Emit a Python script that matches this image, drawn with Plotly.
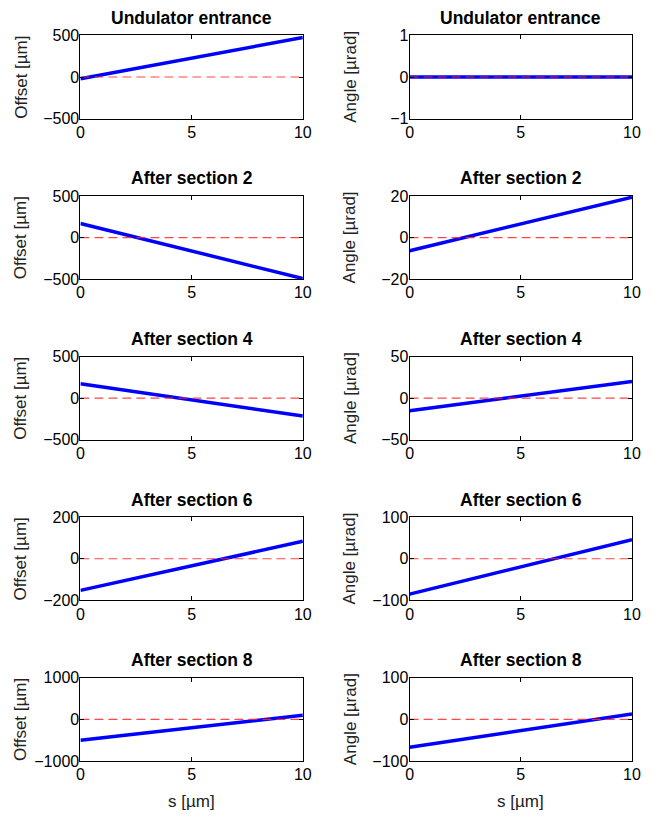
import plotly.graph_objects as go

# ---- data ----
s = [0, 10]
titles = ["Undulator entrance", "After section 2", "After section 4", "After section 6", "After section 8"]
offset_start = [-20, 170, 173, -152, -504]
offset_end = [475, -492, -215, 84, 100]
angle_start = [0, -6.3, -15, -85, -67]
angle_end = [0, 19.4, 20, 46, 13]
offset_range = [500, 500, 500, 200, 1000]
angle_range = [1, 20, 50, 100, 100]
offset_label = "Offset [µm]"
angle_label = "Angle [µrad]"
x_label = "s [µm]"

# page is 657x829; the html body keeps its default 8px margin, so the figure is 16px smaller
PAGE_W, PAGE_H, M = 657, 829, 8
W, H = PAGE_W - 2 * M, PAGE_H - 2 * M
FONT = "Liberation Sans, Arial, Helvetica, sans-serif"


def px(xp):
    return (xp - M) / W


def py(yp):
    return 1 - (yp - M) / H


col_px = [(86, 313), (422, 649)]
row_tops = [36, 200, 364, 528, 692]
row_h = 85

fig = go.Figure()
annotations = []
layout = {}

k = 0
for r in range(5):
    top = row_tops[r]
    bot = top + row_h
    ydom = [py(bot), py(top)]
    for c in range(2):
        k += 1
        xa = "x" if k == 1 else f"x{k}"
        ya = "y" if k == 1 else f"y{k}"
        xkey = "xaxis" if k == 1 else f"xaxis{k}"
        ykey = "yaxis" if k == 1 else f"yaxis{k}"
        xl, xr = col_px[c]
        if c == 0:
            yv = [offset_start[r], offset_end[r]]
            R = offset_range[r]
            lab = offset_label
        else:
            yv = [angle_start[r], angle_end[r]]
            R = angle_range[r]
            lab = angle_label
        fig.add_trace(go.Scatter(x=s, y=yv, mode="lines", xaxis=xa, yaxis=ya,
                                 line=dict(color="#0000ff", width=3.5), showlegend=False,
                                 hoverinfo="skip"))
        fig.add_trace(go.Scatter(x=[s[0], s[-1]], y=[0, 0], mode="lines", xaxis=xa, yaxis=ya,
                                 line=dict(color="rgba(255,40,40,0.85)", width=1.2, dash="9px,5px"),
                                 showlegend=False, hoverinfo="skip"))
        common = dict(showline=True, linecolor="black", linewidth=1, mirror="ticks",
                      ticks="inside", ticklen=4, tickcolor="black", showgrid=False,
                      zeroline=False, ticklabeloverflow="allow",
                      tickfont=dict(family=FONT, size=16, color="black"))
        layout[xkey] = dict(domain=[px(xl), px(xr)], anchor=ya, range=[0, 10],
                            tickvals=[0, 5, 10], ticklabelstandoff=-1, **common)
        layout[ykey] = dict(domain=ydom, anchor=xa, range=[-R, R],
                            tickvals=[-R, 0, R], ticklabelstandoff=-3, **common)
        cx = px((xl + xr) / 2)
        annotations.append(dict(text=f"<b>{titles[r]}</b>", x=cx, y=py(top - 18),
                                xref="paper", yref="paper", xanchor="center", yanchor="middle",
                                showarrow=False, font=dict(family=FONT, size=17.5, color="black")))
        lx = px(25 if c == 0 else 361)
        annotations.append(dict(text=lab, x=lx, y=py(top + row_h / 2),
                                xref="paper", yref="paper", xanchor="center", yanchor="middle",
                                textangle=-90, showarrow=False,
                                font=dict(family=FONT, size=17, color="#222")))
        if r == 4:
            annotations.append(dict(text=x_label, x=cx, y=py(818),
                                    xref="paper", yref="paper", xanchor="center", yanchor="middle",
                                    showarrow=False, font=dict(family=FONT, size=17, color="#222")))

fig.update_layout(width=W, height=H, margin=dict(l=0, r=0, t=0, b=0),
                  paper_bgcolor="white", plot_bgcolor="white",
                  annotations=annotations, **layout)
fig.write_html("out.html")
